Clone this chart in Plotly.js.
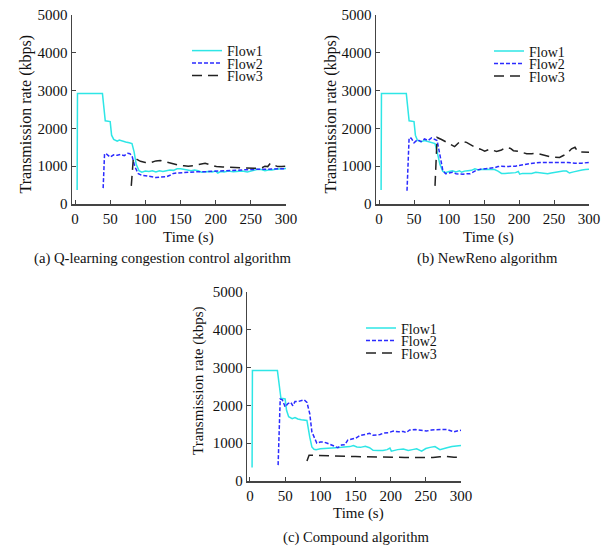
<!DOCTYPE html>
<html><head><meta charset="utf-8">
<script src="https://cdn.plot.ly/plotly-3.0.1.min.js"></script>
<style>html,body{margin:0;padding:0;background:#fff;} #chart{width:608px;height:546px;}</style>
</head><body><div id="chart"></div>
<script>
// ---------- data ----------
const seriesNames = ['Flow1', 'Flow2', 'Flow3'];
const xTickVals = [0, 50, 100, 150, 200, 250, 300];
const yTickVals = [0, 1000, 2000, 3000, 4000, 5000];
const xTitle = 'Time (s)';
const yTitle = 'Transmission rate (kbps)';
const captions = ['(a) Q-learning congestion control algorithm', '(b) NewReno algorithm', '(c) Compound algorithm'];

// (a) Q-learning
const qFlow1T = [3, 3.5, 39, 43, 50, 52, 55, 60, 63, 67, 72, 77, 81, 84, 87, 91, 95, 100, 105, 110, 115, 120, 125, 130, 135, 140, 145, 150, 155, 160, 165, 170, 175, 180, 185, 190, 195, 200, 203, 207, 212, 218, 225, 232, 238, 245, 250, 255, 260, 265, 270, 275, 280, 285, 290, 295, 300];
const qFlow1V = [370, 2920, 2920, 2200, 2180, 1820, 1710, 1660, 1690, 1660, 1640, 1620, 1600, 1380, 1050, 880, 840, 870, 860, 880, 850, 880, 860, 880, 900, 890, 930, 930, 920, 900, 880, 900, 880, 840, 850, 860, 850, 870, 820, 860, 850, 870, 850, 860, 870, 850, 880, 900, 920, 910, 880, 900, 900, 920, 920, 930, 940];
const qFlow2T = [40, 42, 45, 50, 55, 60, 65, 70, 75, 78, 81, 85, 90, 95, 100, 105, 110, 115, 120, 125, 130, 135, 140, 145, 150, 160, 170, 180, 190, 200, 210, 220, 230, 240, 250, 260, 270, 280, 290, 300];
const qFlow2V = [420, 1330, 1320, 1240, 1300, 1290, 1310, 1280, 1340, 1330, 1280, 990, 800, 760, 750, 740, 720, 700, 710, 720, 720, 760, 810, 820, 830, 840, 850, 850, 860, 870, 880, 890, 900, 910, 910, 920, 920, 930, 930, 935];
const qFlow3T = [80, 83, 88, 93, 100, 107, 115, 121, 128, 135, 142, 149, 155, 161, 168, 175, 180, 185, 190, 195, 201, 210, 220, 230, 237, 244, 250, 255, 261, 266, 270, 274, 278, 283, 288, 294, 300];
const qFlow3V = [480, 1230, 1180, 1130, 1100, 1090, 1140, 1150, 1120, 1080, 1040, 1020, 1010, 1000, 1010, 1040, 1060, 1080, 1050, 1030, 990, 980, 970, 960, 950, 940, 940, 945, 945, 960, 1000, 990, 1080, 1040, 990, 990, 1000];

// (b) NewReno
const nFlow1T = [3, 3.5, 39, 43, 50, 52, 55, 60, 65, 70, 75, 80, 83, 87, 91, 95, 100, 105, 110, 115, 118, 122, 127, 132, 137, 142, 148, 155, 160, 165, 170, 175, 180, 185, 190, 195, 199, 201, 205, 212, 218, 224, 230, 236, 241, 246, 252, 258, 263, 268, 272, 278, 284, 290, 295, 300];
const nFlow1V = [370, 2920, 2920, 2200, 2180, 1820, 1680, 1650, 1680, 1650, 1630, 1600, 1380, 1050, 870, 830, 860, 880, 850, 880, 840, 870, 880, 890, 930, 900, 920, 920, 930, 910, 870, 810, 810, 810, 820, 830, 860, 790, 810, 820, 810, 840, 830, 820, 800, 820, 840, 860, 870, 870, 820, 850, 880, 900, 910, 920];
const nFlow2T = [40, 43, 46, 50, 55, 60, 65, 70, 75, 80, 83, 87, 91, 95, 100, 105, 110, 115, 120, 125, 130, 135, 140, 145, 150, 155, 160, 165, 170, 175, 180, 185, 190, 195, 200, 210, 220, 230, 240, 250, 260, 270, 280, 290, 300];
const nFlow2V = [350, 1750, 1740, 1620, 1700, 1650, 1720, 1680, 1750, 1700, 1680, 1300, 900, 800, 830, 840, 800, 790, 790, 800, 800, 850, 900, 920, 930, 940, 950, 960, 990, 1000, 990, 990, 990, 1000, 1020, 1060, 1080, 1100, 1100, 1100, 1100, 1100, 1080, 1080, 1100];
const nFlow3T = [80, 83, 90, 95, 101, 108, 115, 120, 125, 131, 137, 145, 151, 158, 163, 168, 175, 182, 188, 192, 200, 211, 218, 225, 232, 238, 244, 250, 258, 264, 270, 275, 280, 284, 290, 300];
const nFlow3V = [480, 1760, 1700, 1650, 1590, 1520, 1640, 1650, 1630, 1560, 1500, 1450, 1400, 1450, 1420, 1390, 1430, 1500, 1470, 1410, 1390, 1330, 1330, 1340, 1310, 1270, 1250, 1240, 1230, 1290, 1360, 1460, 1500, 1380, 1370, 1370];

// (c) Compound
const cFlow1T = [3, 3.5, 39, 44, 50, 52, 55, 60, 64, 68, 73, 77, 81, 85, 88, 91, 94, 100, 105, 110, 116, 122, 130, 137, 142, 147, 152, 157, 164, 170, 175, 182, 189, 195, 199, 201, 205, 210, 218, 225, 231, 237, 244, 250, 256, 263, 270, 275, 280, 287, 294, 300];
const cFlow1V = [360, 2920, 2920, 2190, 2170, 1870, 1700, 1650, 1680, 1640, 1620, 1610, 1600, 1160, 900, 840, 830, 850, 860, 860, 870, 880, 890, 900, 910, 940, 900, 890, 920, 880, 810, 805, 805, 830, 870, 790, 810, 830, 848, 805, 830, 850, 790, 860, 890, 910, 830, 860, 880, 910, 935, 940];
const cFlow2T = [40, 43, 46, 50, 54, 58, 61, 64, 68, 72, 77, 81, 85, 88, 92, 95, 100, 105, 110, 116, 120, 125, 130, 135, 139, 145, 150, 156, 163, 170, 175, 180, 185, 190, 197, 204, 211, 218, 222, 227, 235, 243, 251, 258, 265, 272, 280, 286, 290, 296, 300];
const cFlow2V = [420, 2170, 2150, 1960, 2050, 2080, 1990, 2100, 2100, 2120, 2150, 2080, 1780, 1300, 1100, 1000, 1030, 1030, 1000, 940, 920, 880, 950, 960, 1080, 1110, 1130, 1200, 1220, 1260, 1210, 1210, 1230, 1270, 1280, 1320, 1300, 1310, 1280, 1350, 1360, 1340, 1320, 1350, 1360, 1360, 1360, 1330, 1300, 1330, 1340];
const cFlow3T = [81, 84, 90, 100, 110, 120, 130, 140, 150, 160, 170, 180, 190, 200, 210, 220, 230, 240, 250, 260, 270, 280, 290, 300];
const cFlow3V = [530, 680, 680, 670, 665, 660, 655, 650, 645, 645, 640, 640, 640, 635, 630, 625, 620, 615, 610, 620, 640, 650, 630, 625];

// ---------- style ----------
const FONT = 'Liberation Serif, "Times New Roman", serif';
const TXT = '#111';
const AX = '#444';
const colors = ['#2ee6e6', '#2b2bff', '#222222'];
const dashes = ['solid', '4px,2px', '10px,6px'];
const W = 608, H = 546;

const panels = [
  { t: [qFlow1T, qFlow2T, qFlow3T], v: [qFlow1V, qFlow2V, qFlow3V],
    xd: [72, 286], yd: [204, 15], xmin: -4.3, legX: 187, rows: [51, 63.5, 76],
    cap: [162.5, 258], xt: [188, 237], yt: [25, 114.5, 16] },
  { t: [nFlow1T, nFlow2T, nFlow3T], v: [nFlow1V, nFlow2V, nFlow3V],
    xd: [376, 589], yd: [204, 15], xmin: -4.3, legX: 489, rows: [51.5, 64, 76.5],
    cap: [487, 258], xt: [488, 237], yt: [330, 114.5, 16] },
  { t: [cFlow1T, cFlow2T, cFlow3T], v: [cFlow1V, cFlow2V, cFlow3V],
    xd: [247.3, 461], yd: [481, 292], xmin: -3.8, legX: 361, rows: [328.5, 341, 353.5],
    cap: [356, 537], xt: [358, 513], yt: [198, 381, 15] }
];

const traces = [];
const layout = {
  width: W, height: H,
  margin: { l: 0, r: 0, t: 0, b: 0 },
  paper_bgcolor: '#fff', plot_bgcolor: '#fff',
  font: { family: FONT, size: 15, color: TXT },
  showlegend: true,
  annotations: []
};

function note(text, px, py, size, angle) {
  layout.annotations.push({
    xref: 'paper', yref: 'paper', x: px / W, y: 1 - py / H,
    xanchor: 'center', yanchor: 'middle', showarrow: false,
    text: text, textangle: angle || 0,
    font: { family: FONT, size: size, color: TXT }
  });
}

let legIdx = 0;
panels.forEach((p, i) => {
  const sfx = i === 0 ? '' : String(i + 1);
  p.t.forEach((tArr, k) => {
    legIdx++;
    const legName = 'legend' + (legIdx === 1 ? '' : legIdx);
    traces.push({
      type: 'scatter', mode: 'lines',
      x: tArr, y: p.v[k], name: seriesNames[k],
      xaxis: 'x' + sfx, yaxis: 'y' + sfx,
      legend: legName,
      line: { color: colors[k], width: 1.5, dash: dashes[k] },
      hoverinfo: 'skip'
    });
    layout[legName] = {
      x: p.legX / W, y: 1 - p.rows[k] / H,
      xanchor: 'left', yanchor: 'middle',
      bgcolor: 'rgba(0,0,0,0)', borderwidth: 0,
      font: { family: FONT, size: 14, color: TXT },
      itemwidth: 30, tracegroupgap: 0
    };
  });
  layout['xaxis' + sfx] = {
    domain: [p.xd[0] / W, p.xd[1] / W], range: [p.xmin, 300],
    anchor: 'y' + sfx, showline: true, linecolor: AX, linewidth: 1.5,
    ticks: 'inside', ticklen: 4, tickcolor: AX, tickwidth: 1,
    tickvals: xTickVals, ticktext: xTickVals.map(String),
    showgrid: false, zeroline: false, fixedrange: true,
    tickfont: { family: FONT, size: 15, color: TXT }
  };
  layout['yaxis' + sfx] = {
    domain: [1 - p.yd[0] / H, 1 - p.yd[1] / H], range: [0, 5000],
    anchor: 'x' + sfx, showline: true, linecolor: AX, linewidth: 1.5,
    ticks: 'inside', ticklen: 4, tickcolor: AX, tickwidth: 1,
    tickvals: yTickVals, ticktext: yTickVals.map(String),
    showgrid: false, zeroline: false, fixedrange: true,
    tickfont: { family: FONT, size: 15, color: TXT }
  };
  note(xTitle, p.xt[0], p.xt[1], 15, 0);
  note(yTitle, p.yt[0], p.yt[1], p.yt[2], -90);
  note(captions[i], p.cap[0], p.cap[1], 14.7, 0);
});

Plotly.newPlot('chart', traces, layout, { staticPlot: true, displayModeBar: false });
</script>
</body></html>
